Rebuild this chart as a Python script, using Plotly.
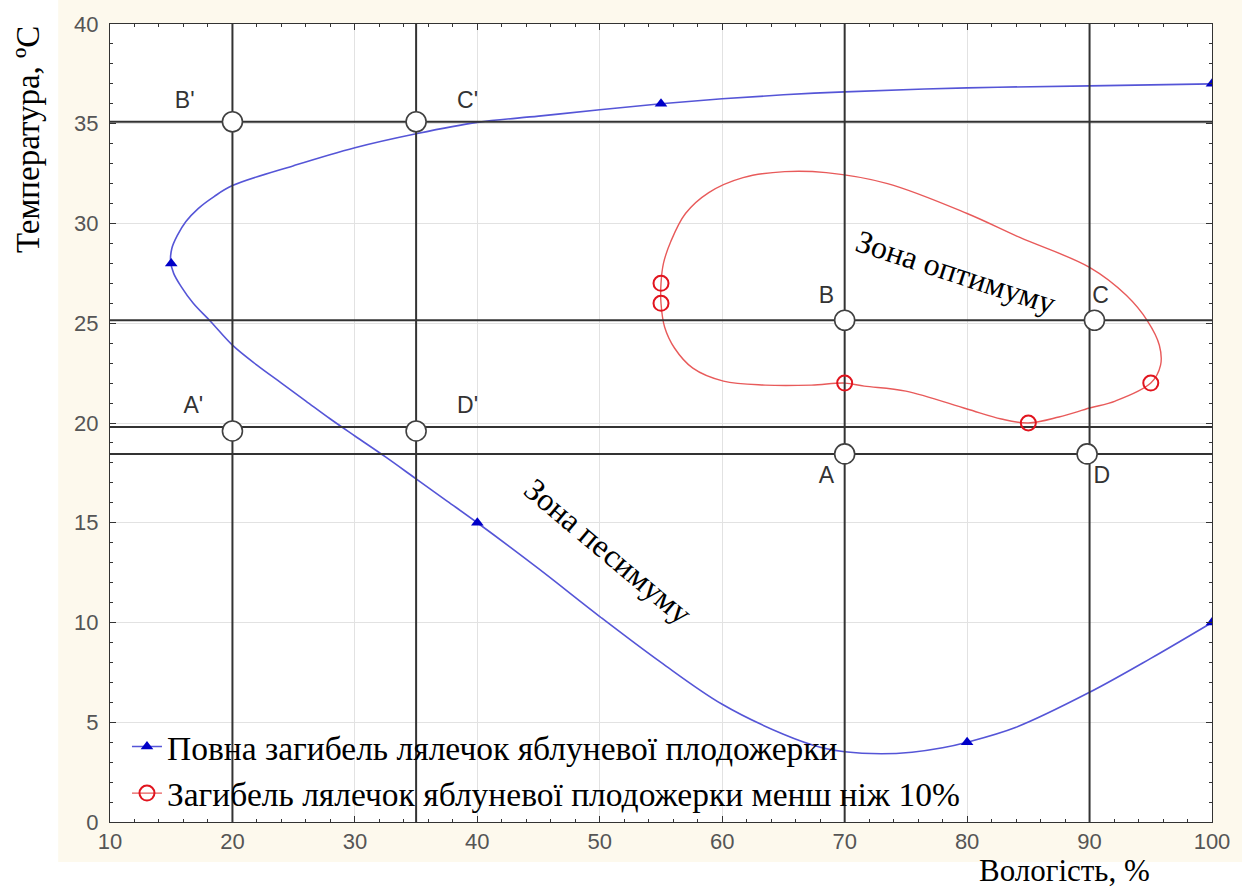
import plotly.graph_objects as go

# ---- data ----
# full death (blue) - measured points
blue_x = [100, 55, 15, 40, 80, 100]
blue_y = [37, 36, 28, 15, 4, 10]
# traced path of the blue fitted curve
blue_curve_x = [100, 90, 80, 70, 65, 60, 55, 50, 45, 40, 35, 30, 25, 20, 18.5, 17.2, 16.2, 15.5,
                15.05, 14.95, 15.2, 15.8, 16.8, 18.2, 20, 22, 24, 26, 28, 30, 32.5, 35, 37.5,
                40, 45, 50, 55, 60, 65, 68, 70, 73, 75.5, 78, 80, 84, 90, 95, 100]
blue_curve_y = [37.0, 36.9, 36.8, 36.6, 36.45, 36.25, 36.0, 35.7, 35.38, 35.07, 34.5, 33.8, 32.9,
                31.9, 31.35, 30.75, 30.1, 29.4, 28.75, 28.1, 27.5, 26.85, 26.0, 25.1, 23.9, 22.9,
                22.0, 21.1, 20.2, 19.35, 18.3, 17.2, 16.1, 15.0, 12.7, 10.3, 8.0, 5.9, 4.4, 3.75,
                3.52, 3.42, 3.5, 3.72, 4.0, 4.75, 6.5, 8.2, 10.0]

# <10% death (red) - measured points
red_x = [55, 55, 70, 85, 95]
red_y = [27, 26, 22, 20, 22]
# traced path of the red closed curve
red_curve_x = [55, 55.2, 55.8, 57, 58.9, 61.7, 65.1, 68.5, 73.5, 80, 84.3, 90, 93, 94.75, 95.7,
               95.8, 95, 92.1, 90, 87.5, 85, 82.8, 80, 75, 71.6, 70, 67.3, 63.5, 60.1, 57.6,
               56.1, 55.3, 55, 55]
red_curve_y = [27, 28.0, 29.1, 30.5, 31.55, 32.3, 32.6, 32.55, 32.0, 30.5, 29.3, 27.8, 26.4, 25.1,
               23.9, 22.9, 22, 21.1, 20.75, 20.3, 20, 20.2, 20.7, 21.6, 21.85, 22, 21.9, 21.9,
               22.1, 22.75, 23.76, 24.8, 26, 27]

# reference lines
vline_x = [20, 35, 70, 90]
hline_y = [35.1, 25.15, 19.8, 18.45]

# reference points
ref_labels = ["B'", "C'", "A'", "D'", "B", "C", "A", "D"]
ref_x = [20, 35, 20, 35, 70, 90.4, 70, 89.8]
ref_y = [35.1, 35.1, 19.6, 19.6, 25.15, 25.15, 18.45, 18.45]
lab_x = [16.1, 39.2, 16.8, 39.2, 68.5, 90.9, 68.5, 91.0]
lab_y = [36.1, 36.1, 20.8, 20.8, 26.3, 26.3, 17.3, 17.3]

x_ticks = [10, 20, 30, 40, 50, 60, 70, 80, 90, 100]
y_ticks = [0, 5, 10, 15, 20, 25, 30, 35, 40]

name_blue = "Повна загибель лялечок яблуневої плодожерки"
name_red = "Загибель лялечок яблуневої плодожерки менш ніж 10%"

BLUE_LINE = "rgb(85,85,215)"
BLUE_MK = "rgb(0,0,200)"
RED_LINE = "rgb(232,90,90)"
RED_MK = "rgb(225,20,30)"
BEIGE = "rgb(253,249,237)"
SERIF = "Liberation Serif"
SANS = "Liberation Sans"

fig = go.Figure()

# curves
fig.add_trace(go.Scatter(x=blue_curve_x, y=blue_curve_y, mode="lines",
                         line=dict(color=BLUE_LINE, width=1.6, shape="spline", smoothing=1.0),
                         showlegend=False, hoverinfo="skip"))
fig.add_trace(go.Scatter(x=red_curve_x, y=red_curve_y, mode="lines",
                         line=dict(color=RED_LINE, width=1.4, shape="spline", smoothing=1.0),
                         showlegend=False, hoverinfo="skip"))

# reference lines as traces through the axes
for vx in vline_x:
    fig.add_trace(go.Scatter(x=[vx, vx], y=[0, 40], mode="lines",
                             line=dict(color="#333333", width=2), showlegend=False,
                             hoverinfo="skip"))
for hy in hline_y:
    fig.add_trace(go.Scatter(x=[10, 100], y=[hy, hy], mode="lines",
                             line=dict(color="#333333", width=2), showlegend=False,
                             hoverinfo="skip"))

# markers
fig.add_trace(go.Scatter(x=blue_x, y=blue_y, mode="markers",
                         marker=dict(symbol="triangle-up", size=11, color=BLUE_MK),
                         showlegend=False))
fig.add_trace(go.Scatter(x=red_x, y=red_y, mode="markers",
                         marker=dict(symbol="circle-open", size=15, color=RED_MK,
                                     line=dict(width=2, color=RED_MK)),
                         showlegend=False))
fig.add_trace(go.Scatter(x=ref_x, y=ref_y, mode="markers",
                         marker=dict(symbol="circle", size=20, color="white",
                                     line=dict(width=1.6, color="#404040")),
                         showlegend=False))
fig.add_trace(go.Scatter(x=lab_x, y=lab_y, mode="text", text=ref_labels,
                         textfont=dict(family=SANS, size=23, color="#333333"),
                         showlegend=False, hoverinfo="skip"))

# legend entries
fig.add_trace(go.Scatter(x=[None], y=[None], mode="lines+markers", name=name_blue,
                         line=dict(color=BLUE_LINE, width=1.6),
                         marker=dict(symbol="triangle-up", size=11, color=BLUE_MK)))
fig.add_trace(go.Scatter(x=[None], y=[None], mode="lines+markers", name=name_red,
                         line=dict(color=RED_LINE, width=1.4),
                         marker=dict(symbol="circle-open", size=15, color=RED_MK,
                                     line=dict(width=2, color=RED_MK))))

annotations = [
    dict(text="Зона оптимуму", x=79.1, y=27.55, xref="x", yref="y", showarrow=False,
         xanchor="center", yanchor="middle",
         textangle=18, font=dict(family=SERIF, size=32, color="black")),
    dict(text="Зона песимуму", x=50.7, y=13.6, xref="x", yref="y", showarrow=False,
         xanchor="center", yanchor="middle",
         textangle=40, font=dict(family=SERIF, size=32, color="black")),
    dict(text="Температура, ºC", x=-0.075, y=0.855, xref="paper", yref="paper",
         xanchor="center", yanchor="middle",
         showarrow=False, textangle=-90, font=dict(family=SERIF, size=33, color="black")),
    dict(text="Вологість, %", x=0.866, y=-0.0852, xref="paper", yref="paper",
         xanchor="center", yanchor="bottom",
         showarrow=False, font=dict(family=SERIF, size=31, color="black")),
]

# white strips outside the beige panel (left and bottom margins)
shapes = [
    dict(type="rect", xref="paper", yref="paper", x0=-0.2, x1=-0.047, y0=-0.2, y1=1.2,
         fillcolor="white", line=dict(width=0), layer="below"),
    dict(type="rect", xref="paper", yref="paper", x0=-0.2, x1=1.2, y0=-0.2, y1=-0.05,
         fillcolor="white", line=dict(width=0), layer="below"),
]

axis_common = dict(
    showline=True, linecolor="#333333", linewidth=1, mirror="ticks",
    ticks="inside", ticklen=6, tickcolor="#333333", tickwidth=1,
    showgrid=True, gridcolor="#e2e2e2", gridwidth=1, zeroline=False,
    tickfont=dict(family=SANS, size=22, color="#555555"),
)

fig.update_layout(
    width=1242, height=891,
    margin=dict(l=110, r=30, t=24, b=69),
    paper_bgcolor=BEIGE, plot_bgcolor="white",
    xaxis=dict(range=[10, 100], tickvals=x_ticks, ticklabelstandoff=0,
               minor=dict(dtick=2, ticks="inside", ticklen=3, tickcolor="#333333", showgrid=False),
               **axis_common),
    yaxis=dict(range=[0, 40], tickvals=y_ticks, ticklabelstandoff=6,
               minor=dict(dtick=1, ticks="inside", ticklen=3, tickcolor="#333333", showgrid=False),
               **axis_common),
    legend=dict(x=0.0154, y=0.13, xanchor="left", yanchor="top",
                bgcolor="rgba(0,0,0,0)", font=dict(family=SERIF, size=33.5, color="black"),
                itemwidth=30, tracegroupgap=0),
    annotations=annotations,
    shapes=shapes,
)

fig.write_html("out.html", config={"displayModeBar": False},
               post_script="document.body.style.margin='0';")
